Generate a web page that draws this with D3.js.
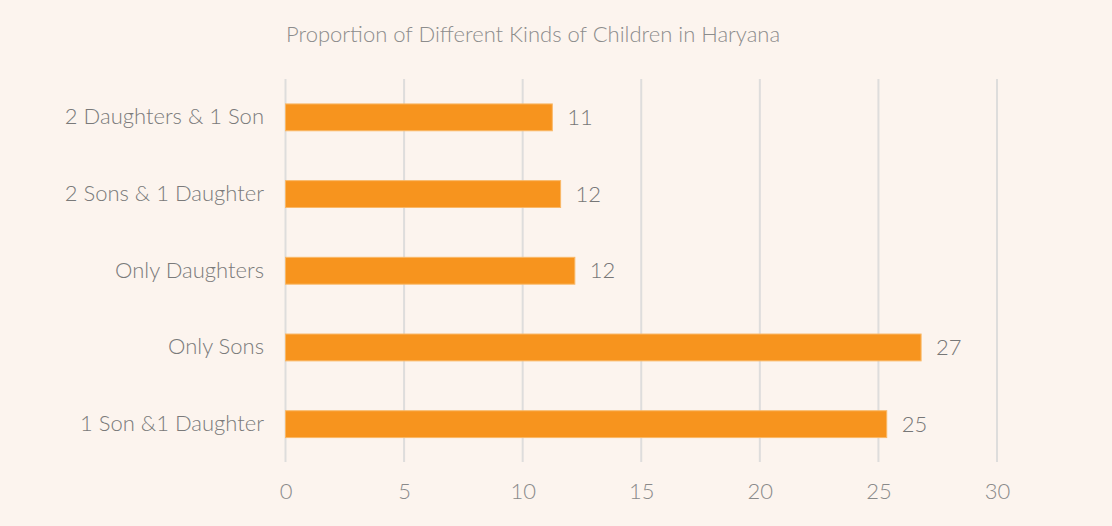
<!DOCTYPE html>
<html>
<head>
<meta charset="utf-8">
<script src="https://cdn.jsdelivr.net/npm/d3@7"></script>
<style>
html,body{margin:0;padding:0;background:#fcf4ee;}
svg{display:block;}
text{font-family:Lato,"Open Sans","DejaVu Sans",sans-serif;font-weight:300;}
</style>
</head>
<body>
<svg id="chart" width="1112" height="526"></svg>
<script>
const title = "Proportion of Different Kinds of Children in Haryana";
const categories = ["2 Daughters & 1 Son", "2 Sons & 1 Daughter", "Only Daughters", "Only Sons", "1 Son &1 Daughter"];
const values = [11.25, 11.6, 12.2, 26.8, 25.35];
const ticks = [0, 5, 10, 15, 20, 25, 30];

const svg = d3.select("#chart");
svg.append("rect").attr("width", 1112).attr("height", 526).attr("fill", "#fcf4ee");

const x = d3.scaleLinear().domain([0, 30]).range([285.5, 997]);
const y = d3.scaleBand().domain(categories).range([79, 462.5]).paddingInner(0.65).paddingOuter(0.325);

// gridlines
svg.append("g").selectAll("line").data(ticks).join("line")
  .attr("x1", d => x(d)).attr("x2", d => x(d))
  .attr("y1", 79).attr("y2", 462)
  .attr("stroke", "#dedddc").attr("stroke-width", 2);

// x axis labels
const xAxis = d3.axisBottom(x).tickValues(ticks).tickSize(0).tickPadding(0);
const gx = svg.append("g").attr("transform", "translate(0,483)").call(xAxis);
gx.select(".domain").remove();
gx.selectAll("text").attr("fill", "#8a8a8a").attr("font-size", 22).attr("dy", "0.71em")
  .style("font-family", "Lato,'Open Sans',sans-serif").style("font-weight", 300);

// y axis labels
const yAxis = d3.axisLeft(y).tickSize(0).tickPadding(0);
const gy = svg.append("g").attr("transform", "translate(264,0)").call(yAxis);
gy.select(".domain").remove();
gy.selectAll("text").attr("fill", "#7a7a7a").attr("font-size", 22)
  .style("font-family", "Lato,'Open Sans',sans-serif").style("font-weight", 300);

// bars
svg.append("g").selectAll("rect").data(categories).join("rect")
  .attr("x", x(0))
  .attr("y", d => y(d))
  .attr("width", (d, i) => x(values[i]) - x(0))
  .attr("height", y.bandwidth())
  .attr("fill", "#f7941e")
  .attr("stroke", "#f9b867").attr("stroke-width", 1);

// value labels
svg.append("g").selectAll("text").data(categories).join("text")
  .attr("x", (d, i) => x(values[i]) + 15)
  .attr("y", d => y(d) + y.bandwidth() / 2)
  .attr("dy", "0.35em")
  .attr("fill", "#777")
  .attr("font-size", 22)
  .text((d, i) => d3.format(".0f")(values[i]));

// title
svg.append("text").attr("x", 286).attr("y", 42)
  .attr("fill", "#8c8c8c").attr("font-size", 22)
  .text(title);
</script>
</body>
</html>
